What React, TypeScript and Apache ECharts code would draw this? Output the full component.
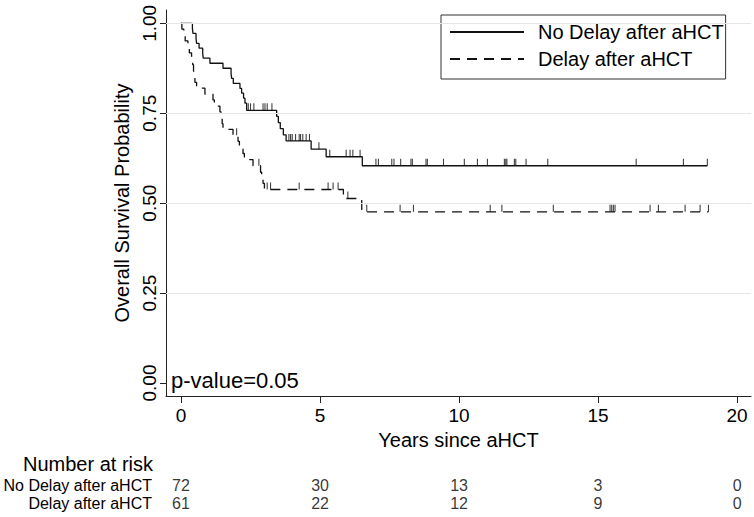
import React, { useEffect, useRef } from "react";
import * as echarts from "echarts";

const FONT = '"Liberation Sans", Arial, Helvetica, sans-serif';

// ---- Kaplan-Meier steps ----
const noDelayTimes = [0, 0.41, 0.43, 0.54, 0.56, 0.65, 0.78, 0.8, 1.04, 1.51, 1.8, 1.82, 1.88, 2.12, 2.18, 2.25, 2.3, 2.36, 3.44, 3.5, 3.57, 3.68, 3.78, 4.68, 5.22, 6.52, 18.93];
const noDelaySurv = [1, 0.986, 0.972, 0.958, 0.944, 0.931, 0.917, 0.903, 0.889, 0.875, 0.861, 0.847, 0.833, 0.819, 0.806, 0.792, 0.778, 0.758, 0.741, 0.724, 0.707, 0.69, 0.673, 0.65, 0.629, 0.604, 0.604];
const noDelayCensors = [2.42, 2.5, 2.62, 2.95, 3.02, 3.1, 3.27, 3.88, 3.94, 4.0, 4.12, 4.25, 4.3, 4.38, 4.5, 4.62, 4.96, 5.35, 5.94, 6.08, 6.18, 6.44, 7.01, 7.1, 7.58, 7.66, 7.9, 8.27, 8.32, 8.81, 8.86, 9.44, 10.19, 10.66, 11.02, 11.63, 11.68, 11.72, 11.99, 12.04, 12.41, 13.19, 16.37, 18.07, 18.93];

const delayTimes = [0, 0.03, 0.1, 0.15, 0.25, 0.3, 0.38, 0.42, 0.45, 0.47, 0.5, 0.56, 0.86, 1.15, 1.2, 1.4, 1.44, 1.48, 1.51, 1.87, 2.05, 2.1, 2.23, 2.28, 2.59, 2.86, 2.9, 2.95, 3.0, 5.84, 6.5, 18.97];
const delaySurv = [1, 0.984, 0.967, 0.951, 0.934, 0.918, 0.902, 0.885, 0.869, 0.852, 0.836, 0.82, 0.803, 0.787, 0.77, 0.754, 0.738, 0.721, 0.705, 0.689, 0.672, 0.655, 0.638, 0.621, 0.604, 0.586, 0.568, 0.555, 0.538, 0.513, 0.476, 0.476];
const delayCensors = [2.0, 2.8, 3.1, 3.22, 4.25, 5.29, 5.47, 5.65, 6.0, 6.68, 7.88, 8.36, 11.12, 11.54, 13.39, 15.43, 15.49, 15.55, 15.61, 16.87, 17.17, 18.13, 18.67, 18.97];

// ---- axes / table ----
const xTicks = [0, 5, 10, 15, 20];
const yTicks = [0, 0.25, 0.5, 0.75, 1];
const gridLines = [0.25, 0.5, 0.75, 1];
const groupNames = ["No Delay after aHCT", "Delay after aHCT"];
const riskTimes = [0, 5, 10, 15, 20];
const riskNoDelay = [72, 30, 13, 3, 0];
const riskDelay = [61, 22, 12, 9, 0];

const X_MIN = -0.54;
const X_MAX = 20.5;
const Y_MIN = -0.0361;
const Y_MAX = 1.037;

function survAt(times: number[], surv: number[], t: number) {
  let s = surv[0];
  for (let i = 0; i < times.length; i++) if (times[i] <= t) s = surv[i];
  return s;
}

export default function App() {
  const ref = useRef<HTMLDivElement>(null);
  useEffect(() => {
    const chart = echarts.init(ref.current!, null, { renderer: "svg" });
    const txt = { fontFamily: FONT, color: "#000" };
    const censorSeries = (times: number[], surv: number[], cens: number[]) => ({
      type: "scatter",
      xAxisIndex: 0,
      yAxisIndex: 0,
      symbol: "rect",
      symbolSize: [1.1, 7],
      symbolOffset: [0, -3.5],
      itemStyle: { color: "#111" },
      z: 4,
      silent: true,
      data: cens.map((t) => [t, survAt(times, surv, t)]),
    });
    const riskSeries = (row: number, values: number[]) => ({
      type: "scatter",
      xAxisIndex: 1,
      yAxisIndex: 1,
      symbolSize: 1,
      itemStyle: { color: "transparent" },
      silent: true,
      label: { show: true, position: "inside", fontSize: 16, ...txt, formatter: (p: any) => String(p.data[2]) },
      data: riskTimes.map((t, i) => [t, row, values[i]]),
    });
    const option: any = {
      animation: false,
      backgroundColor: "#fff",
      textStyle: { fontFamily: FONT },
      grid: [
        { left: 166, top: 10, width: 585, height: 386 },
        { left: 166, top: 476, width: 585, height: 36 },
      ],
      xAxis: [
        {
          type: "value",
          gridIndex: 0,
          min: X_MIN,
          max: X_MAX,
          axisLine: { onZero: false, lineStyle: { color: "#222", width: 1 } },
          axisTick: { show: true, length: 7, customValues: xTicks, lineStyle: { color: "#222" } },
          axisLabel: { customValues: xTicks, margin: 10, fontSize: 19, ...txt, formatter: (v: number) => String(v) },
          splitLine: { show: false },
          name: "Years since aHCT",
          nameLocation: "middle",
          nameGap: 19,
          nameTextStyle: { fontSize: 20, ...txt },
        },
        { type: "value", gridIndex: 1, min: X_MIN, max: X_MAX, show: false },
      ],
      yAxis: [
        {
          type: "value",
          gridIndex: 0,
          min: Y_MIN,
          max: Y_MAX,
          axisLine: { show: true, onZero: false, lineStyle: { color: "#222", width: 1 } },
          axisTick: { show: true, length: 6, customValues: yTicks, lineStyle: { color: "#222" } },
          axisLabel: { customValues: yTicks, rotate: 90, margin: 7, fontSize: 19, ...txt, formatter: (v: number) => v.toFixed(2) },
          splitLine: { show: false },
          name: "Overall Survival Probability",
          nameLocation: "middle",
          nameRotate: 90,
          nameGap: 33,
          nameTextStyle: { fontSize: 20, ...txt },
        },
        {
          type: "category",
          gridIndex: 1,
          inverse: true,
          data: groupNames,
          axisLine: { show: false },
          axisTick: { show: false },
          axisLabel: { interval: 0, margin: 14, fontSize: 16, ...txt },
        },
      ],
      legend: {
        data: groupNames,
        orient: "vertical",
        left: 441,
        top: 15,
        itemWidth: 74,
        itemHeight: 22,
        itemGap: 7,
        padding: [7, 2, 10, 8],
        borderColor: "#333",
        borderWidth: 1,
        borderRadius: 0,
        backgroundColor: "#fff",
        itemStyle: { opacity: 0, color: "transparent", borderWidth: 0 },
        textStyle: { fontSize: 20, ...txt, padding: [0, 0, 0, 9] },
      },
      graphic: [
        {
          type: "text",
          x: 171,
          y: 380,
          style: { text: "p-value=0.05", fontSize: 22, fontFamily: FONT, fill: "#000", align: "left", verticalAlign: "middle" },
        },
        {
          type: "text",
          x: 153,
          y: 464,
          style: { text: "Number at risk", fontSize: 20, fontFamily: FONT, fill: "#000", align: "right", verticalAlign: "middle" },
        },
      ],
      series: [
        {
          type: "line",
          xAxisIndex: 0,
          yAxisIndex: 0,
          data: [[0, 1]],
          symbol: "none",
          lineStyle: { opacity: 0 },
          silent: true,
          z: 1,
          markLine: {
            silent: true,
            symbol: "none",
            label: { show: false },
            lineStyle: { color: "#e6e6e6", width: 1, type: "solid" },
            data: gridLines.map((v) => ({ yAxis: v })),
          },
        },
        {
          name: groupNames[0],
          type: "line",
          step: "end",
          xAxisIndex: 0,
          yAxisIndex: 0,
          symbol: "none",
          z: 3,
          lineStyle: { color: "#111", width: 1.3, type: "solid" },
          itemStyle: { color: "#111" },
          data: noDelayTimes.map((t, i) => [t, noDelaySurv[i]]),
        },
        {
          name: groupNames[1],
          type: "line",
          step: "end",
          xAxisIndex: 0,
          yAxisIndex: 0,
          symbol: "none",
          z: 3,
          lineStyle: { color: "#111", width: 1.3, type: [10, 7] },
          itemStyle: { color: "#111" },
          data: delayTimes.map((t, i) => [t, delaySurv[i]]),
        },
        censorSeries(noDelayTimes, noDelaySurv, noDelayCensors),
        censorSeries(delayTimes, delaySurv, delayCensors),
        riskSeries(0, riskNoDelay),
        riskSeries(1, riskDelay),
      ],
    };
    chart.setOption(option);
    return () => chart.dispose();
  }, []);
  return (
    <div
      ref={ref}
      style={{ position: "fixed", left: 0, top: 0, width: 754, height: 517, background: "#fff" }}
    />
  );
}
